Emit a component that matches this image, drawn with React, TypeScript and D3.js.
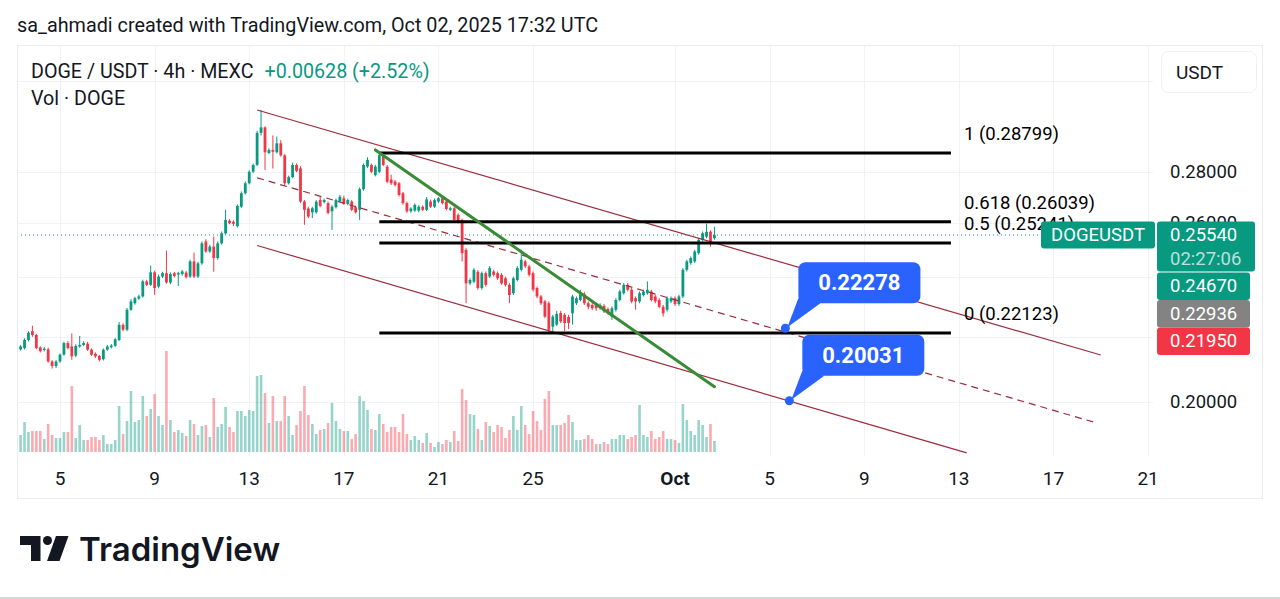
import React from "react";
import * as d3 from "d3";

/* ---------- data ---------- */
const HOUR = 3600 * 1000;
const lastBarTime = Date.UTC(2025, 9, 2, 16); // last 4h candle (Oct 2 16:00 UTC)

// [open, high, low, close]
const ohlc: number[][] = [
  [0.2157, 0.217, 0.2152, 0.2165], [0.216, 0.2174, 0.2156, 0.2169], [0.2164, 0.2195, 0.216, 0.219], [0.219, 0.2218, 0.2185, 0.2213],
  [0.2218, 0.2236, 0.22, 0.2206], [0.2206, 0.221, 0.216, 0.2164], [0.2166, 0.217, 0.215, 0.2154], [0.2158, 0.2168, 0.2153, 0.2162],
  [0.216, 0.2165, 0.2118, 0.2122], [0.2122, 0.2126, 0.21, 0.2108], [0.2108, 0.2126, 0.2102, 0.2122], [0.2122, 0.2147, 0.2118, 0.2143],
  [0.2143, 0.2184, 0.214, 0.218], [0.218, 0.2186, 0.216, 0.2164], [0.2169, 0.2211, 0.2127, 0.2138], [0.214, 0.2176, 0.2135, 0.2171],
  [0.2169, 0.2203, 0.2165, 0.2174], [0.2174, 0.2186, 0.217, 0.218], [0.2178, 0.2184, 0.2155, 0.2159], [0.2159, 0.2163, 0.2139, 0.2143],
  [0.2146, 0.215, 0.2133, 0.2138], [0.2139, 0.2142, 0.2122, 0.2127], [0.2129, 0.2163, 0.2125, 0.2159], [0.2159, 0.2174, 0.2155, 0.2169],
  [0.2167, 0.2177, 0.2163, 0.2172], [0.2171, 0.2196, 0.2168, 0.2192], [0.219, 0.2248, 0.2186, 0.2239], [0.2239, 0.2244, 0.2218, 0.2223],
  [0.2223, 0.2295, 0.2218, 0.2289], [0.2289, 0.2325, 0.2285, 0.2317], [0.2311, 0.2333, 0.2306, 0.2328], [0.2327, 0.234, 0.2322, 0.2334],
  [0.2334, 0.2392, 0.233, 0.2386], [0.2386, 0.2392, 0.237, 0.2374], [0.2374, 0.2442, 0.237, 0.2418], [0.2418, 0.2424, 0.2339, 0.2363],
  [0.2368, 0.241, 0.2362, 0.2403], [0.2403, 0.242, 0.2398, 0.2415], [0.2415, 0.2496, 0.2378, 0.2382], [0.2382, 0.2418, 0.2376, 0.2412],
  [0.2415, 0.242, 0.24, 0.2405], [0.241, 0.242, 0.237, 0.2415], [0.2412, 0.2426, 0.2406, 0.2421], [0.2417, 0.2423, 0.2396, 0.2401],
  [0.2403, 0.2463, 0.2398, 0.2457], [0.2457, 0.2489, 0.2398, 0.2403], [0.2403, 0.2456, 0.2398, 0.245], [0.245, 0.253, 0.2445, 0.2523],
  [0.253, 0.2538, 0.2488, 0.2493], [0.2493, 0.2517, 0.2488, 0.2511], [0.2511, 0.2548, 0.242, 0.2469], [0.2469, 0.253, 0.2463, 0.2523],
  [0.2523, 0.2567, 0.2518, 0.256], [0.256, 0.265, 0.2555, 0.2611], [0.2608, 0.2614, 0.2594, 0.2598], [0.2604, 0.2609, 0.2587, 0.2596],
  [0.2587, 0.2671, 0.2582, 0.2665], [0.2662, 0.2722, 0.2657, 0.2715], [0.2715, 0.2762, 0.271, 0.2755], [0.2755, 0.2808, 0.275, 0.2802],
  [0.2802, 0.2836, 0.2797, 0.283], [0.283, 0.2975, 0.2825, 0.2966], [0.2966, 0.3067, 0.2955, 0.299], [0.299, 0.2995, 0.2809, 0.2883],
  [0.288, 0.29, 0.2875, 0.2893], [0.2893, 0.2955, 0.2815, 0.2885], [0.2883, 0.295, 0.2878, 0.2921], [0.2921, 0.2935, 0.2865, 0.287],
  [0.287, 0.2875, 0.2745, 0.2755], [0.2755, 0.2786, 0.275, 0.278], [0.278, 0.284, 0.2775, 0.283], [0.283, 0.2836, 0.28, 0.2805],
  [0.2816, 0.2825, 0.2676, 0.2682], [0.2682, 0.2688, 0.2592, 0.265], [0.2655, 0.2662, 0.2618, 0.2624], [0.264, 0.2662, 0.2618, 0.2656],
  [0.264, 0.2688, 0.2635, 0.2682], [0.2688, 0.27, 0.266, 0.2665], [0.268, 0.2694, 0.2675, 0.2688], [0.2676, 0.2682, 0.2632, 0.2638],
  [0.2644, 0.2668, 0.2573, 0.2662], [0.266, 0.2694, 0.2655, 0.2688], [0.2684, 0.2708, 0.268, 0.2701], [0.2695, 0.2705, 0.2669, 0.2673],
  [0.2673, 0.2694, 0.2668, 0.2688], [0.2682, 0.2688, 0.2645, 0.265], [0.266, 0.2666, 0.2635, 0.264], [0.265, 0.2738, 0.2611, 0.2731],
  [0.2731, 0.2836, 0.2725, 0.283], [0.2823, 0.2862, 0.2818, 0.2851], [0.283, 0.2836, 0.2796, 0.2802], [0.2788, 0.283, 0.2783, 0.2823],
  [0.2802, 0.288, 0.2796, 0.2871], [0.2871, 0.288, 0.2825, 0.283], [0.2823, 0.283, 0.2755, 0.2761], [0.277, 0.279, 0.2748, 0.2755],
  [0.2762, 0.2768, 0.2742, 0.2748], [0.2755, 0.276, 0.2702, 0.2708], [0.2715, 0.272, 0.267, 0.2676], [0.2676, 0.2682, 0.2638, 0.2644],
  [0.2644, 0.266, 0.2638, 0.2655], [0.2647, 0.2675, 0.2642, 0.2669], [0.2647, 0.2668, 0.264, 0.2662], [0.2662, 0.2667, 0.2645, 0.265],
  [0.265, 0.27, 0.2645, 0.2691], [0.2682, 0.269, 0.2657, 0.2662], [0.2662, 0.2694, 0.2657, 0.2688], [0.2682, 0.27, 0.2677, 0.2695],
  [0.2695, 0.2702, 0.2671, 0.2676], [0.2682, 0.2688, 0.2648, 0.2653], [0.265, 0.2662, 0.2645, 0.2656], [0.2656, 0.2662, 0.2606, 0.2611],
  [0.263, 0.2636, 0.2598, 0.2605], [0.2611, 0.2616, 0.2457, 0.2487], [0.2499, 0.2505, 0.2311, 0.2379], [0.2379, 0.2397, 0.2373, 0.2391],
  [0.2385, 0.2433, 0.238, 0.2427], [0.242, 0.2426, 0.2357, 0.2363], [0.2363, 0.2421, 0.2357, 0.2415], [0.2415, 0.2421, 0.2368, 0.2374],
  [0.2403, 0.244, 0.2398, 0.2433], [0.2421, 0.2427, 0.2403, 0.2409], [0.2415, 0.2421, 0.2391, 0.2397], [0.2409, 0.2415, 0.2374, 0.2379],
  [0.2397, 0.2403, 0.2368, 0.2374], [0.2374, 0.238, 0.2311, 0.2339], [0.2345, 0.2403, 0.2339, 0.2397], [0.2391, 0.244, 0.2386, 0.2433],
  [0.2427, 0.2499, 0.2421, 0.2463], [0.2457, 0.2463, 0.2433, 0.2439], [0.2439, 0.2445, 0.2403, 0.2409], [0.2415, 0.2421, 0.2351, 0.2357],
  [0.2363, 0.2368, 0.2328, 0.2334], [0.2334, 0.2339, 0.2305, 0.2311], [0.2317, 0.2322, 0.2261, 0.2266], [0.2311, 0.2317, 0.2212, 0.2223],
  [0.2233, 0.2272, 0.2213, 0.2266], [0.224, 0.2285, 0.2235, 0.2275], [0.2278, 0.2285, 0.2245, 0.225], [0.2272, 0.2278, 0.2218, 0.2245],
  [0.2265, 0.2272, 0.2225, 0.2245], [0.2277, 0.234, 0.224, 0.2334], [0.2311, 0.2334, 0.2305, 0.2328], [0.2322, 0.2357, 0.2317, 0.2342],
  [0.2342, 0.235, 0.2305, 0.2311], [0.2311, 0.2317, 0.229, 0.2299], [0.2305, 0.2311, 0.2288, 0.2294], [0.2305, 0.2311, 0.2285, 0.2294],
  [0.2294, 0.2311, 0.2289, 0.2305], [0.2302, 0.2308, 0.2278, 0.2283], [0.2291, 0.2297, 0.2272, 0.2277], [0.2266, 0.23, 0.2255, 0.2294],
  [0.2289, 0.2328, 0.2283, 0.2322], [0.2322, 0.2357, 0.2317, 0.2351], [0.2345, 0.238, 0.234, 0.2374], [0.2374, 0.238, 0.2351, 0.2357],
  [0.2357, 0.2363, 0.2311, 0.2317], [0.2328, 0.2334, 0.2289, 0.2317], [0.2317, 0.2351, 0.2311, 0.2345], [0.2339, 0.2357, 0.2334, 0.2351],
  [0.2345, 0.2386, 0.234, 0.2357], [0.2351, 0.2357, 0.2317, 0.2322], [0.2334, 0.234, 0.2311, 0.2317], [0.2322, 0.2328, 0.2294, 0.2299],
  [0.2299, 0.2305, 0.2266, 0.2277], [0.2289, 0.2334, 0.2283, 0.2328], [0.2317, 0.2334, 0.2311, 0.2328], [0.2328, 0.2334, 0.2302, 0.2308],
  [0.2308, 0.234, 0.2302, 0.2334], [0.2334, 0.2433, 0.2328, 0.2427], [0.2427, 0.2463, 0.2421, 0.2457], [0.2451, 0.2475, 0.2445, 0.2469],
  [0.2457, 0.2499, 0.2451, 0.2493], [0.2487, 0.2542, 0.2481, 0.2536], [0.2536, 0.2567, 0.253, 0.256], [0.2548, 0.2597, 0.2542, 0.2566],
  [0.2566, 0.2572, 0.2511, 0.2523], [0.2542, 0.2585, 0.2536, 0.2554],
];

// volume, millions of DOGE
const volumes: number[] = [
  18, 17, 30, 20, 21, 21, 21, 13, 28, 17, 14, 14, 20, 20, 66, 14, 27, 12, 12, 15,
  15, 12, 17, 8, 8, 12, 46, 18, 31, 61, 30, 32, 56, 36, 43, 58, 36, 27, 101, 32,
  20, 22, 19, 16, 32, 28, 17, 26, 27, 15, 54, 25, 28, 45, 25, 20, 41, 41, 36, 42,
  41, 76, 77, 59, 29, 56, 31, 31, 56, 36, 17, 27, 41, 66, 37, 28, 18, 22, 23, 29,
  49, 31, 23, 21, 21, 13, 18, 56, 51, 42, 23, 22, 38, 28, 20, 25, 25, 20, 38, 18,
  12, 16, 12, 9, 19, 9, 5, 10, 8, 12, 10, 21, 11, 63, 52, 38, 37, 23, 12, 30,
  26, 20, 27, 25, 14, 22, 36, 22, 46, 27, 18, 41, 31, 22, 53, 61, 27, 27, 27, 29,
  37, 30, 12, 12, 13, 17, 13, 8, 8, 10, 8, 13, 13, 17, 17, 13, 15, 17, 47, 17,
  15, 21, 13, 15, 21, 13, 13, 12, 9, 48, 32, 21, 17, 32, 27, 15, 28, 11,
];

const timeTicks = [
  Date.UTC(2025, 8, 5), Date.UTC(2025, 8, 9), Date.UTC(2025, 8, 13), Date.UTC(2025, 8, 17),
  Date.UTC(2025, 8, 21), Date.UTC(2025, 8, 25), Date.UTC(2025, 9, 1), Date.UTC(2025, 9, 5),
  Date.UTC(2025, 9, 9), Date.UTC(2025, 9, 13), Date.UTC(2025, 9, 17), Date.UTC(2025, 9, 21),
];
const timeTickLabels = ["5", "9", "13", "17", "21", "25", "Oct", "5", "9", "13", "17", "21"];

const priceTicks = [0.32, 0.28, 0.26, 0.24, 0.22, 0.2];

const fibLevels = [
  { ratio: "1", price: 0.28799 },
  { ratio: "0.618", price: 0.26039 },
  { ratio: "0.5", price: 0.25241 },
  { ratio: "0", price: 0.22123 },
];
const fibFrom = Date.UTC(2025, 8, 18, 12);
const fibTo = Date.UTC(2025, 9, 12, 16);

const channelLines = [
  { dashed: false, from: [Date.UTC(2025, 8, 13, 8), 0.3067], to: [Date.UTC(2025, 9, 19, 0), 0.2142] },
  { dashed: true, from: [Date.UTC(2025, 8, 13, 8), 0.2777], to: [Date.UTC(2025, 9, 18, 20), 0.1939] },
  { dashed: false, from: [Date.UTC(2025, 8, 13, 8), 0.2515], to: [Date.UTC(2025, 9, 13, 8), 0.1856] },
];

const trendLine = [[Date.UTC(2025, 8, 18, 8), 0.2893], [Date.UTC(2025, 9, 2, 16), 0.2045]];

const callouts = [
  { time: Date.UTC(2025, 9, 5, 16), price: 0.22278 },
  { time: Date.UTC(2025, 9, 5, 20), price: 0.20031 },
];

const lastPrice = 0.2554;
const countdown = "02:27:06";
const sideLabels = [
  { text: "0.24670", color: "#089981" },
  { text: "0.22936", color: "#838383" },
  { text: "0.21950", color: "#F23645" },
];

/* ---------- layout ---------- */
const W = 1280, H = 599;
const frame = { left: 17, right: 1262, top: 45, bottom: 498 };
const plot = { left: 17, right: 1153, top: 45, bottom: 456 };
const UP = "#089981", DOWN = "#F23645";
const FONT = "Roboto, sans-serif";
const TEXT = "#131722";

export default function App() {
  const x = d3.scaleUtc()
    .domain([Date.UTC(2025, 8, 5), Date.UTC(2025, 9, 1)])
    .range([60, 675]);
  const y = d3.scaleLog()
    .domain([0.28799, 0.22123])
    .range([153, 333]);
  const vy = d3.scaleLinear().domain([0, 100]).range([452, 352]);

  const n = ohlc.length;
  const tOf = (i: number) => lastBarTime - (n - 1 - i) * 4 * HOUR;
  const line = d3.line<number[]>().x(d => x(d[0])).y(d => y(d[1]));

  const py = y(lastPrice);
  const stackBottom = py + 37.5 + sideLabels.length * 27.5;
  // axis labels hidden behind the USDT button or the price label stack are not drawn
  const axisLabels = priceTicks.filter(p => {
    const ty = y(p);
    return ty > 96 && !(ty > py - 10 && ty < stackBottom);
  });

  return (
    <svg width={W} height={H} style={{ position: "absolute", left: 0, top: 0, background: "#fff" }}
      fontFamily={FONT}>
      <defs>
        <clipPath id="plot">
          <rect x={plot.left} y={plot.top} width={plot.right - plot.left} height={plot.bottom - plot.top} />
        </clipPath>
      </defs>
      <rect width={W} height={H} fill="#fff" />

      {/* header */}
      <text x={17} y={32} fontSize={19.8} fill={TEXT}>sa_ahmadi created with TradingView.com, Oct 02, 2025 17:32 UTC</text>

      {/* grid */}
      <g stroke="#F0F2F6" strokeWidth={1}>
        {timeTicks.map(t => (
          <line key={t} x1={Math.round(x(t)) + 0.5} x2={Math.round(x(t)) + 0.5} y1={plot.top} y2={plot.bottom} />
        ))}
        {priceTicks.map(p => (
          <line key={p} x1={plot.left} x2={plot.right} y1={Math.round(y(p)) + 0.5} y2={Math.round(y(p)) + 0.5} />
        ))}
      </g>

      <g clipPath="url(#plot)">
        {/* volume */}
        {volumes.map((v, i) => {
          const up = ohlc[i][3] >= ohlc[i][0];
          return (
            <rect key={i} x={x(tOf(i)) - 1.3} width={2.6} y={vy(v)} height={vy(0) - vy(v)}
              fill={up ? "rgba(8,153,129,0.42)" : "rgba(242,54,69,0.42)"} />
          );
        })}

        {/* candles */}
        {ohlc.map((d, i) => {
          const [o, h, l, c] = d;
          const up = c >= o;
          const cx = x(tOf(i));
          const top = y(Math.max(o, c)), bot = y(Math.min(o, c));
          const col = up ? UP : DOWN;
          return (
            <g key={i}>
              <line x1={cx} x2={cx} y1={y(h)} y2={y(l)} stroke={col} strokeWidth={1} />
              <rect x={cx - 1.4} width={2.8} y={top} height={Math.max(1, bot - top)} fill={col} />
            </g>
          );
        })}

        {/* parallel channel */}
        {channelLines.map((c, i) => (
          <path key={i} d={line([c.from, c.to]) || ""} stroke="#9B2C3B" strokeWidth={1.2} fill="none"
            strokeDasharray={c.dashed ? "7 5" : undefined} />
        ))}

        {/* fib levels */}
        {fibLevels.map(f => (
          <line key={f.ratio} x1={x(fibFrom)} x2={x(fibTo)} y1={y(f.price)} y2={y(f.price)} stroke="#000" strokeWidth={3} />
        ))}

        {/* trend line */}
        <path d={line(trendLine) || ""} stroke="#3A8B35" strokeWidth={3} fill="none" strokeLinecap="round" />

        {/* last price line */}
        <line x1={plot.left} x2={1041} y1={py} y2={py} stroke={UP} strokeWidth={1} strokeDasharray="1 3" />
      </g>

      {/* fib labels */}
      {fibLevels.map(f => (
        <text key={f.ratio} x={x(fibTo) + 13} y={y(f.price) - 13} fontSize={18.5} fill="#000">
          {`${f.ratio} (${f.price.toFixed(5)})`}
        </text>
      ))}

      {/* callouts */}
      {callouts.map((c, i) => {
        const cx = x(c.time), cy = y(c.price);
        return (
          <g key={i}>
            <path d={`M${cx + 13},${cy - 30} L${cx + 35},${cy - 25} L${cx + 2},${cy - 1} Z`} fill="#2962FF" />
            <rect x={cx + 13} y={cy - 66} width={122} height={41} rx={7} fill="#2962FF" />
            <circle cx={cx} cy={cy} r={4.5} fill="#2962FF" />
            <text x={cx + 74} y={cy - 45.5} fontSize={22} fontWeight={700} fill="#fff" textAnchor="middle"
              dominantBaseline="central">{c.price.toFixed(5)}</text>
          </g>
        );
      })}

      {/* legend */}
      <text x={31} y={78} fontSize={19.7} fill={TEXT}>
        DOGE / USDT · 4h · MEXC
        <tspan dx={11} fill={UP}>+0.00628 (+2.52%)</tspan>
      </text>
      <text x={31} y={105} fontSize={19.7} fill={TEXT}>Vol · DOGE</text>

      {/* price axis */}
      {axisLabels.map(p => (
        <text key={p} x={1170} y={y(p)} fontSize={18.5} fill={TEXT} dominantBaseline="central">{p.toFixed(5)}</text>
      ))}
      <rect x={1161.5} y={51.5} width={95} height={41} rx={7} fill="#fff" stroke="#EEF0F4" />
      <text x={1176} y={79} fontSize={19} fill={TEXT}>USDT</text>

      {/* last price labels */}
      <g fontSize={18.5}>
        <rect x={1041} y={py - 13.5} width={114} height={27} rx={3} fill={UP} />
        <text x={1098} y={py} fill="#fff" textAnchor="middle" dominantBaseline="central">DOGEUSDT</text>
        <rect x={1157} y={py - 13.5} width={98} height={50} rx={3} fill={UP} />
        <text x={1170} y={py} fill="#fff" dominantBaseline="central">{lastPrice.toFixed(5)}</text>
        <text x={1170} y={py + 24} fill="rgba(255,255,255,0.72)" dominantBaseline="central">{countdown}</text>
        {sideLabels.map((s, i) => {
          const top = py + 37.5 + i * 27.5;
          return (
            <g key={s.text}>
              <rect x={1157} y={top} width={93} height={27.5} rx={3} fill={s.color} />
              <text x={1170} y={top + 14} fill="#fff" dominantBaseline="central">{s.text}</text>
            </g>
          );
        })}
      </g>

      {/* time axis */}
      {timeTicks.map((t, i) => (
        <text key={t} x={x(t)} y={485} fontSize={19} fill={TEXT} textAnchor="middle"
          fontWeight={timeTickLabels[i] === "Oct" ? 700 : 400}>{timeTickLabels[i]}</text>
      ))}

      {/* frame */}
      <rect x={frame.left + 0.5} y={frame.top + 0.5} width={frame.right - frame.left} height={frame.bottom - frame.top}
        fill="none" stroke="#EAECEF" />

      {/* logo */}
      <g fill="#131722">
        <path d="M20,536 H40.5 V561 H31 V545 H20 Z" />
        <circle cx={47.5} cy={540.5} r={4.5} />
        <path d="M56,536 H68.5 L59.5,561 H47 Z" />
      </g>
      <text x={79} y={561} fontSize={33} fontWeight={600} fill="#131722" fontFamily="Inter, Roboto, sans-serif">
        TradingView
      </text>

      <rect x={0} y={597} width={W} height={2} fill="#D6D6D6" />
    </svg>
  );
}
